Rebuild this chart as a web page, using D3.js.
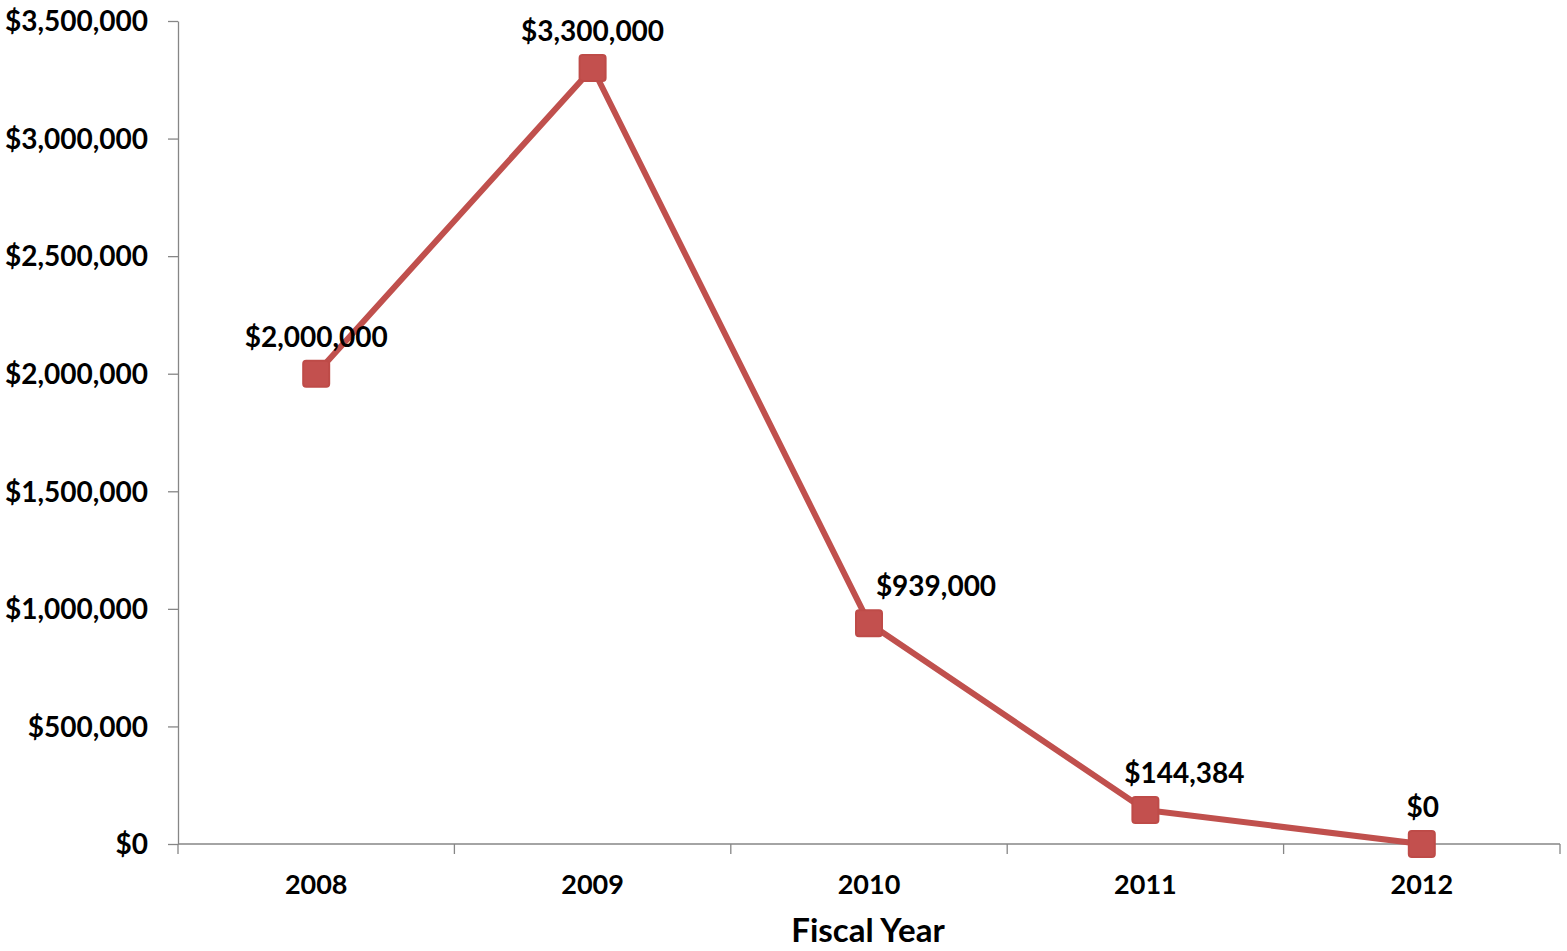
<!DOCTYPE html>
<html><head><meta charset="utf-8">
<script src="https://cdn.jsdelivr.net/npm/d3@7"></script>
<style>
html,body{margin:0;padding:0;background:#fff;}
text{font-family:Lato,"Open Sans",sans-serif;font-weight:bold;fill:#000;}
</style></head>
<body><svg id="c" width="1567" height="951"></svg>
<script>
const years = ["2008","2009","2010","2011","2012"];
const values = [2000000, 3300000, 939000, 144384, 0];
const yTicks = [0, 500000, 1000000, 1500000, 2000000, 2500000, 3000000, 3500000];
const xTitle = "Fiscal Year";

(function(){
const svg = d3.select("#c");
const mLeft = 178, mRight = 1560, mTop = 21, mBottom = 844;
const x = d3.scaleBand().domain(years).range([mLeft, mRight]);
const y = d3.scaleLinear().domain([0, 3500000]).range([mBottom, mTop]);
const fmt = v => "$" + d3.format(",")(v);
const axisColor = "#868686";

// y axis
const ya = svg.append("g").attr("transform", `translate(${mLeft},0)`)
  .call(d3.axisLeft(y).tickValues(yTicks).tickFormat(fmt).tickSize(10).tickSizeOuter(0).tickPadding(20));
ya.select(".domain").attr("stroke", axisColor).attr("stroke-width", 1.3);
ya.selectAll(".tick line").attr("stroke", axisColor).attr("stroke-width", 1.3);
ya.selectAll(".tick text").attr("font-size", 28).attr("dy", "0.35em")
  .style("font-family", "Lato,'Open Sans',sans-serif").style("font-weight", "bold").attr("fill", "#000");

// x axis with tick marks at band boundaries
const xa = svg.append("g").attr("transform", `translate(0,${mBottom})`);
xa.append("line").attr("x1", mLeft).attr("x2", mRight).attr("y1", 0).attr("y2", 0)
  .attr("stroke", axisColor).attr("stroke-width", 1.3);
const bounds = years.map(d => x(d)).concat([x(years[years.length-1]) + x.bandwidth()]);
xa.selectAll("line.t").data(bounds).join("line").attr("class", "t")
  .attr("x1", d => d).attr("x2", d => d).attr("y1", 0).attr("y2", 10)
  .attr("stroke", axisColor).attr("stroke-width", 1.3);
xa.selectAll("text.xl").data(years).join("text").attr("class", "xl")
  .attr("x", d => x(d) + x.bandwidth()/2).attr("y", 50)
  .attr("text-anchor", "middle").attr("font-size", 27).text(d => d);

svg.append("text").attr("x", (mLeft + mRight)/2 - 1).attr("y", 942)
  .attr("text-anchor", "middle").attr("font-size", 33).text(xTitle);

const cx = d => x(d) + x.bandwidth()/2;
const red = "#C0504D";
const line = d3.line().x((d, i) => cx(years[i])).y(d => y(d));
svg.append("path").datum(values).attr("d", line)
  .attr("fill", "none").attr("stroke", red).attr("stroke-width", 6).attr("stroke-linejoin", "round");

svg.selectAll("rect.m").data(values).join("rect").attr("class", "m")
  .attr("x", (d, i) => cx(years[i]) - 13).attr("y", d => y(d) - 13)
  .attr("width", 26).attr("height", 26).attr("rx", 3)
  .attr("fill", "#C3504E").attr("stroke", "#BE4B48").attr("stroke-width", 2);

const labelDx = [0, 0, 67, 39, 1];
svg.selectAll("text.dl").data(values).join("text").attr("class", "dl")
  .attr("x", (d, i) => cx(years[i]) + labelDx[i]).attr("y", d => y(d) - 27)
  .attr("text-anchor", "middle").attr("font-size", 28).text(fmt);
})();
</script></body></html>
